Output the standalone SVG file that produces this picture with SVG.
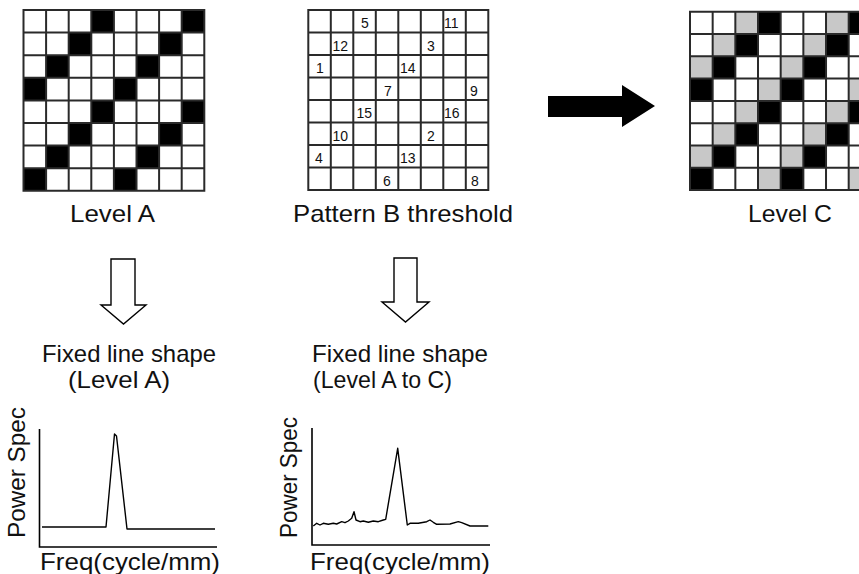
<svg xmlns="http://www.w3.org/2000/svg" width="859" height="574" viewBox="0 0 859 574">
<style>
.t{font-family:"Liberation Sans",Arial,sans-serif;font-size:24px;fill:#111}
.n{font-family:"Liberation Sans",Arial,sans-serif;font-size:14px;fill:#111}
.grid{fill:none;stroke:#2a2a2a;stroke-width:2}
.blk{fill:#000}
.gry{fill:#c8c8c8}
.ax{fill:none;stroke:#000;stroke-width:1.6}
.ln{fill:none;stroke:#000;stroke-width:1.4;stroke-linejoin:round}
.hollow{fill:#fff;stroke:#000;stroke-width:1.4}
</style>
<defs>
<path id="gridlines" fill="none" vector-effect="non-scaling-stroke" d="M0 0H8V8H0Z M1 0V8 M2 0V8 M3 0V8 M4 0V8 M5 0V8 M6 0V8 M7 0V8 M0 1H8 M0 2H8 M0 3H8 M0 4H8 M0 5H8 M0 6H8 M0 7H8"/>
<g id="blackcells">
<rect x="3" y="0" width="1" height="1"/><rect x="7" y="0" width="1" height="1"/>
<rect x="2" y="1" width="1" height="1"/><rect x="6" y="1" width="1" height="1"/>
<rect x="1" y="2" width="1" height="1"/><rect x="5" y="2" width="1" height="1"/>
<rect x="0" y="3" width="1" height="1"/><rect x="4" y="3" width="1" height="1"/>
<rect x="3" y="4" width="1" height="1"/><rect x="7" y="4" width="1" height="1"/>
<rect x="2" y="5" width="1" height="1"/><rect x="6" y="5" width="1" height="1"/>
<rect x="1" y="6" width="1" height="1"/><rect x="5" y="6" width="1" height="1"/>
<rect x="0" y="7" width="1" height="1"/><rect x="4" y="7" width="1" height="1"/>
</g>
<g id="graycells">
<rect x="2" y="0" width="1" height="1"/><rect x="6" y="0" width="1" height="1"/>
<rect x="1" y="1" width="1" height="1"/><rect x="5" y="1" width="1" height="1"/>
<rect x="0" y="2" width="1" height="1"/><rect x="4" y="2" width="1" height="1"/>
<rect x="3" y="3" width="1" height="1"/><rect x="7" y="3" width="1" height="1"/>
<rect x="2" y="4" width="1" height="1"/><rect x="6" y="4" width="1" height="1"/>
<rect x="1" y="5" width="1" height="1"/><rect x="5" y="5" width="1" height="1"/>
<rect x="0" y="6" width="1" height="1"/><rect x="4" y="6" width="1" height="1"/>
<rect x="3" y="7" width="1" height="1"/><rect x="7" y="7" width="1" height="1"/>
</g>
</defs>
<rect width="859" height="574" fill="#fff"/>

<g id="level-a">
<g transform="translate(23.5,10) scale(22.6)">
<rect width="8" height="8" fill="#fff"/>
<use href="#blackcells" class="blk"/>
<use href="#gridlines" class="grid"/>
</g>
<text class="t" x="70" y="222" textLength="85" lengthAdjust="spacingAndGlyphs">Level A</text>
</g>

<g id="pattern-b">
<g transform="translate(308.3,10) scale(22.5)">
<rect width="8" height="8" fill="#fff"/>
<use href="#gridlines" class="grid"/>
</g>
<g class="n">
<text x="361" y="28.3">5</text><text x="444" y="28.3">11</text>
<text x="332.5" y="50.8">12</text><text x="427" y="50.8">3</text>
<text x="316" y="73.3">1</text><text x="400" y="73.3">14</text>
<text x="384" y="95.8">7</text><text x="470" y="95.8">9</text>
<text x="356.5" y="118.3">15</text><text x="444" y="118.3">16</text>
<text x="332.5" y="140.8">10</text><text x="427" y="140.8">2</text>
<text x="315" y="163.3">4</text><text x="400" y="163.3">13</text>
<text x="383" y="185.8">6</text><text x="471" y="185.8">8</text>
</g>
<text class="t" x="293" y="222" textLength="220" lengthAdjust="spacingAndGlyphs">Pattern B threshold</text>
</g>

<g id="level-c">
<g transform="translate(690,11.7) scale(22.67,22.3)">
<rect width="8" height="8" fill="#fff"/>
<use href="#blackcells" class="blk"/>
<use href="#graycells" class="gry"/>
<use href="#gridlines" class="grid"/>
</g>
<text class="t" x="748" y="222" textLength="84" lengthAdjust="spacingAndGlyphs">Level C</text>
</g>

<g id="connectors">
<polygon id="arrow-b-to-c" fill="#000" points="548,96 622,96 622,85 655,106 622,127 622,117 548,117"/>
<polygon id="arrow-a-down" class="hollow" points="111,259 135,259 135,305 146,305 123.5,324 101,305 111,305"/>
<polygon id="arrow-b-down" class="hollow" points="394,258 417,258 417,302 429,302 405.5,322 382,302 394,302"/>
</g>

<g id="graph-a">
<text class="t" x="42" y="362" textLength="174" lengthAdjust="spacingAndGlyphs">Fixed line shape</text>
<text class="t" x="68" y="388" textLength="102" lengthAdjust="spacingAndGlyphs">(Level A)</text>
<text class="t" transform="translate(25,538) rotate(-90)" textLength="131" lengthAdjust="spacingAndGlyphs">Power Spec</text>
<path class="ax" d="M39.5 429V547H217"/>
<path class="ln" d="M42 527H106L114.5 434L116.5 436L127 529H215"/>
<text class="t" x="40" y="570" textLength="180" lengthAdjust="spacingAndGlyphs">Freq(cycle/mm)</text>
</g>

<g id="graph-b">
<text class="t" x="312" y="362" textLength="176" lengthAdjust="spacingAndGlyphs">Fixed line shape</text>
<text class="t" x="313" y="388" textLength="139" lengthAdjust="spacingAndGlyphs">(Level A to C)</text>
<text class="t" transform="translate(297,538) rotate(-90)" textLength="121" lengthAdjust="spacingAndGlyphs">Power Spec</text>
<path class="ax" d="M312 428V545H490"/>
<path class="ln" d="M313.3 526L316.7 523.3L320 525L323.3 523.3L328.3 524.3L333.3 523.3L336.7 524L341.7 521.7L345 522.7L348.3 521L351.7 518.3L354 511.7L356 520L360 521.7L363.3 521L368.3 522.3L373.3 521L378.3 521.7L383.3 520L385.7 519.3L397.7 448.3L407.3 525L410 523.3L418.3 523.3L426.7 521.7L430 520L433.3 522.3L436.7 524.3L450 524L458.3 521.7L461.7 522.7L470 526L488.3 526"/>
<text class="t" x="310" y="570" textLength="180" lengthAdjust="spacingAndGlyphs">Freq(cycle/mm)</text>
</g>
</svg>
